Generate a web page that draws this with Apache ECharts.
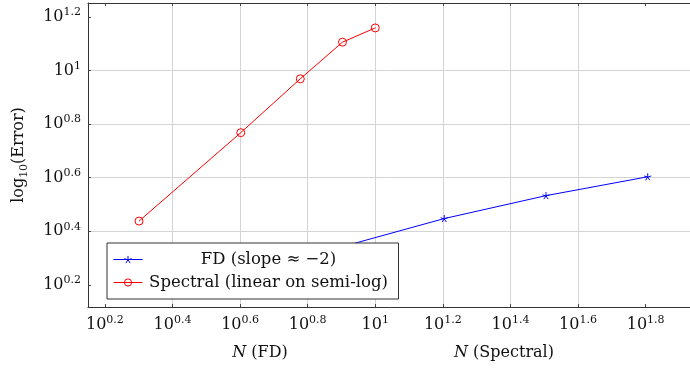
<!DOCTYPE html>
<html>
<head>
<meta charset="utf-8">
<script src="https://cdn.jsdelivr.net/npm/echarts@6/dist/echarts.min.js"></script>
<style>
html,body{margin:0;padding:0;background:#fff;}
#c{width:690px;height:370px;}
</style>
</head>
<body>
<div id="c"></div>
<script>
// ---- data ----
const fdN = [4, 8, 16, 32, 64];
const fdErr = [1.60, 2.20, 2.80, 3.41, 4.01];
const spN = [2, 4, 6, 8, 10];
const spErr = [2.74, 5.86, 9.31, 12.76, 14.42];
// tick exponents (log10 axis)
const xTickExp = [0.2, 0.4, 0.6, 0.8, 1.0, 1.2, 1.4, 1.6, 1.8];
const yTickExp = [0.2, 0.4, 0.6, 0.8, 1.0, 1.2];
const seriesNames = ['FD (slope \u2248 \u22122)', 'Spectral (linear on semi-log)'];

const FONT = 'DejaVu Serif';
const lg = Math.log10;
const toPts = (xs, ys) => xs.map((x, i) => [lg(x), lg(ys[i])]);

const supRich = {
  b: {fontFamily: FONT, fontSize: 16, lineHeight: 20, color: '#111'},
  s: {fontFamily: FONT, fontSize: 11, lineHeight: 12, verticalAlign: 'top', color: '#111'}
};
const powFmt = v => {
  const e = +(+v).toFixed(1);
  return '{b|10}{s|' + (e === 1 ? '1' : e) + '}';
};

const starPath = 'path://M0,-10L0,0M9.51,-3.09L0,0M5.88,8.09L0,0M-5.88,8.09L0,0M-9.51,-3.09L0,0';

const chart = echarts.init(document.getElementById('c'), null, {renderer: 'canvas'});
const frameLine = {show: true, onZero: false, lineStyle: {color: '#333', width: 1}};
const axisCommon = {
  type: 'value',
  axisLine: frameLine,
  axisTick: {show: true, inside: true, length: 3, lineStyle: {color: '#444', width: 1}},
  splitLine: {show: true, showMinLine: false, showMaxLine: false, lineStyle: {color: '#d4d4d4', width: 1}}
};
chart.setOption({
  animation: false,
  backgroundColor: '#fff',
  grid: {left: 88, top: 3, width: 609, height: 304, show: false, containLabel: false, outerBoundsMode: 'none'},
  legend: {
    orient: 'vertical', left: 107, top: 243,
    padding: [8, 9, 8, 6], itemGap: 6, itemWidth: 29, itemHeight: 9,
    backgroundColor: '#fff', borderColor: '#333', borderWidth: 1, borderRadius: 0,
    itemStyle: {borderWidth: 1},
    lineStyle: {width: 1},
    data: seriesNames,
    formatter: n => '{t|' + n + '}',
    textStyle: {fontFamily: FONT, fontSize: 16.5, color: '#111',
      rich: {t: {width: 242, align: 'center', fontFamily: FONT, fontSize: 16.5, lineHeight: 20, color: '#111'}}},
    z: 10
  },
  xAxis: [
    Object.assign({}, axisCommon, {
      min: 0.15, max: 1.952,
      axisTick: Object.assign({}, axisCommon.axisTick, {customValues: xTickExp}),
      axisLabel: {customValues: xTickExp, margin: 8, formatter: powFmt, rich: supRich}
    }),
    {
      type: 'value', position: 'top', min: 0.15, max: 1.952,
      axisLine: frameLine, splitLine: {show: false},
      axisTick: {show: true, inside: true, length: 3, lineStyle: {color: '#444'}, customValues: xTickExp},
      axisLabel: {show: false, customValues: xTickExp}
    }
  ],
  yAxis: [
    Object.assign({}, axisCommon, {
      min: 0.117, max: 1.252,
      axisTick: Object.assign({}, axisCommon.axisTick, {customValues: yTickExp}),
      axisLabel: {customValues: yTickExp, margin: 7, formatter: powFmt, rich: supRich},
      name: '{a|log}{s|10}{a|(Error)}',
      nameLocation: 'middle', nameRotate: 90, nameGap: 58,
      nameTextStyle: {rich: {
        a: {fontFamily: FONT, fontSize: 16, lineHeight: 22, color: '#111'},
        s: {fontFamily: FONT, fontSize: 11, lineHeight: 12, verticalAlign: 'bottom', color: '#111'}
      }}
    })
  ],
  graphic: [
    {type: 'text', x: 260, y: 353, style: {text: '{i|N} (FD)', align: 'center', verticalAlign: 'middle', fill: '#111',
      fontFamily: FONT, fontSize: 16,
      rich: {i: {fontFamily: FONT, fontStyle: 'italic', fontSize: 16, color: '#111'}}}},
    {type: 'text', x: 504, y: 353, style: {text: '{i|N} (Spectral)', align: 'center', verticalAlign: 'middle', fill: '#111',
      fontFamily: FONT, fontSize: 16,
      rich: {i: {fontFamily: FONT, fontStyle: 'italic', fontSize: 16, color: '#111'}}}}
  ],
  series: [
    {
      name: seriesNames[0], type: 'line', data: toPts(fdN, fdErr),
      symbol: starPath, symbolSize: 7, showSymbol: true,
      lineStyle: {color: '#0000ff', width: 1},
      itemStyle: {color: 'rgba(0,0,255,0)', borderColor: '#0000ff', borderWidth: 1},
      z: 3
    },
    {
      name: seriesNames[1], type: 'line', data: toPts(spN, spErr),
      symbol: 'circle', symbolSize: 8, showSymbol: true,
      lineStyle: {color: '#ff0000', width: 1},
      itemStyle: {color: 'rgba(255,0,0,0)', borderColor: '#ff0000', borderWidth: 1},
      z: 3
    }
  ]
});
</script>
</body>
</html>
